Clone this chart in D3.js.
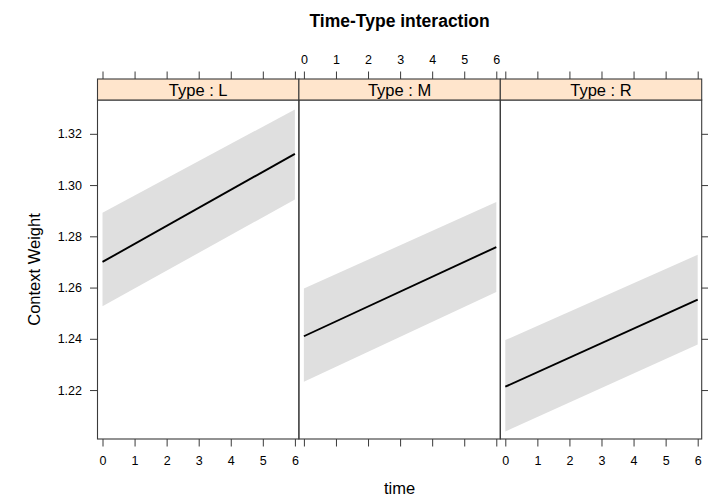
<!DOCTYPE html>
<html>
<head>
<meta charset="utf-8">
<script src="https://cdn.jsdelivr.net/npm/d3@7"></script>
<style>
  body { margin: 0; background: #fff; }
  svg { display: block; }
  text { font-family: "Liberation Sans", Arial, Helvetica, sans-serif; fill: #000; }
</style>
</head>
<body>
<svg id="chart" width="708" height="499"></svg>
<script>
// Effect of time within each Type level: fitted line with confidence band
const types = ["L", "M", "R"];
const timePoints = [0, 6];
const fitValues   = [[1.2700, 1.3122], [1.2410, 1.2758], [1.2213, 1.2553]];
const lowerValues = [[1.2527, 1.2944], [1.2232, 1.2583], [1.2038, 1.2378]];
const upperValues = [[1.2892, 1.3295], [1.2596, 1.2934], [1.2395, 1.2728]];
const xTicks = [0, 1, 2, 3, 4, 5, 6];
const yTicks = [1.22, 1.24, 1.26, 1.28, 1.30, 1.32];

const svg = d3.select("#chart");

const panelLeft = 97.5, panelW = 201.4;
const stripTop = 79, panelTop = 100, panelBottom = 439;
const tickLen = 7.5;
const axisCol = "#3a3a3a";

const y = d3.scaleLinear().domain([1.2009, 1.3332]).range([panelBottom, panelTop]);

const xScales = types.map((t, i) =>
  d3.scaleLinear().domain([-0.156, 6.125])
    .range([panelLeft + i * panelW, panelLeft + (i + 1) * panelW]));

// Panels
types.forEach((t, i) => {
  const x = xScales[i];
  const g = svg.append("g");
  const x0 = x.range()[0], x1 = x.range()[1];

  const band = timePoints.map((tp, k) => ({ t: tp, lo: lowerValues[i][k], hi: upperValues[i][k] }));
  g.append("path")
    .datum(band)
    .attr("fill", "#dfdfdf")
    .attr("d", d3.area().x(d => x(d.t)).y0(d => y(d.lo)).y1(d => y(d.hi)));

  const fit = timePoints.map((tp, k) => ({ t: tp, v: fitValues[i][k] }));
  g.append("path")
    .datum(fit)
    .attr("fill", "none")
    .attr("stroke", "#000")
    .attr("stroke-width", 1.9)
    .attr("d", d3.line().x(d => x(d.t)).y(d => y(d.v)));

  // Panel frame
  g.append("rect")
    .attr("x", x0).attr("y", panelTop)
    .attr("width", x1 - x0).attr("height", panelBottom - panelTop)
    .attr("fill", "none").attr("stroke", axisCol).attr("stroke-width", 1.1);

  // Strip
  g.append("rect")
    .attr("x", x0).attr("y", stripTop)
    .attr("width", x1 - x0).attr("height", panelTop - stripTop)
    .attr("fill", "#ffe5cc").attr("stroke", axisCol).attr("stroke-width", 1.1);
  g.append("text")
    .attr("x", (x0 + x1) / 2).attr("y", 96)
    .attr("text-anchor", "middle")
    .attr("font-size", 16.5)
    .text("Type : " + t);

  // Bottom and top ticks
  const bottomAxis = d3.axisBottom(x).tickValues(xTicks).tickSize(tickLen).tickPadding(10)
    .tickFormat(i === 1 ? "" : d3.format("d"));
  const ga = g.append("g").attr("transform", `translate(0,${panelBottom})`).call(bottomAxis);
  const topAxis = d3.axisTop(x).tickValues(xTicks).tickSize(tickLen).tickPadding(8)
    .tickFormat(i === 1 ? d3.format("d") : "");
  const gt = g.append("g").attr("transform", `translate(0,${stripTop})`).call(topAxis);
  [ga, gt].forEach(a => {
    a.select(".domain").remove();
    a.selectAll("line").attr("stroke", axisCol);
    a.selectAll("text").attr("font-size", 12.5).attr("font-family", null).attr("fill", "#222");
  });
});

// Left axis with labels, right axis ticks only
const leftAxis = d3.axisLeft(y).tickValues(yTicks).tickSize(tickLen).tickPadding(8)
  .tickFormat(d3.format(".2f"));
const gl = svg.append("g").attr("transform", `translate(${panelLeft},0)`).call(leftAxis);
const rightAxis = d3.axisRight(y).tickValues(yTicks).tickSize(tickLen).tickFormat("");
const gr = svg.append("g").attr("transform", `translate(${panelLeft + 3 * panelW},0)`).call(rightAxis);
[gl, gr].forEach(a => {
  a.select(".domain").remove();
  a.selectAll("line").attr("stroke", axisCol);
  a.selectAll("text").attr("font-size", 12.5).attr("font-family", null).attr("fill", "#222");
});

const centerX = panelLeft + 1.5 * panelW;

// Titles
svg.append("text")
  .attr("x", centerX).attr("y", 27)
  .attr("text-anchor", "middle")
  .attr("font-size", 17.5).attr("font-weight", "bold")
  .text("Time-Type interaction");

svg.append("text")
  .attr("x", centerX).attr("y", 494)
  .attr("text-anchor", "middle")
  .attr("font-size", 16.5)
  .text("time");

svg.append("text")
  .attr("transform", `translate(40,${(panelTop + panelBottom) / 2}) rotate(-90)`)
  .attr("text-anchor", "middle")
  .attr("font-size", 16.5)
  .text("Context Weight");
</script>
</body>
</html>
